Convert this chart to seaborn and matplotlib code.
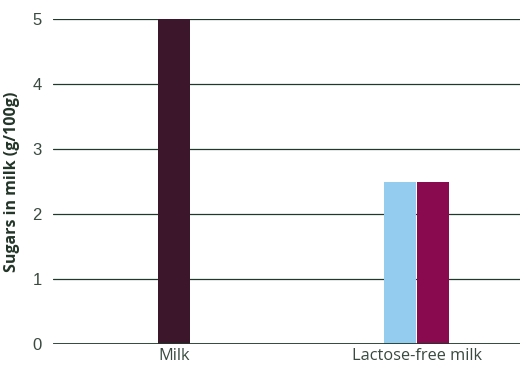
import matplotlib
matplotlib.use("Agg")
import matplotlib.pyplot as plt
import seaborn as sns
import pandas as pd

categories = ["Milk", "Lactose-free milk"]
milk_sugar = [5.0]
lactose_free_variants = ["Lactose-free A", "Lactose-free B"]
lactose_free_sugar = [2.5, 2.5]
y_ticks = [0, 1, 2, 3, 4, 5]

milk_colour = "#3c172c"
lf_colours = ["#94ccef", "#8a0a50"]
grid_colour = "#1f3a29"
text_colour = "#3a4a40"

sns.set_theme(style="white")
plt.rcParams["font.family"] = ["Open Sans", "DejaVu Sans"]

fig = plt.figure(figsize=(5.2, 3.65), dpi=100)
ax = fig.add_axes([53 / 520, 21 / 365, (520 - 53) / 520, 325 / 365])

milk_df = pd.DataFrame({"product": ["Milk"], "sugar": milk_sugar})
lf_df = pd.DataFrame({
    "product": ["Lactose-free milk"] * len(lactose_free_sugar),
    "variant": lactose_free_variants,
    "sugar": lactose_free_sugar,
})

sns.barplot(data=milk_df, x="product", y="sugar", order=categories,
            color=milk_colour, saturation=1, width=0.132, linewidth=0,
            ax=ax, zorder=3)
sns.barplot(data=lf_df, x="product", y="sugar", hue="variant", order=categories,
            hue_order=lactose_free_variants, palette=lf_colours, saturation=1,
            width=0.272, gap=0.04, dodge=True, legend=False, linewidth=0,
            ax=ax, zorder=3)

ax.set_xlim(-0.5, 1.427)
ax.set_ylim(0, 5)
ax.set_yticks(y_ticks)
ax.set_yticklabels([str(t) for t in y_ticks], family=["Liberation Sans"],
                   fontsize=12, color=text_colour)
ax.set_xticks(range(len(categories)))
ax.set_xticklabels(categories, fontsize=11.8, color=text_colour)
ax.tick_params(axis="y", length=0, pad=8)
ax.tick_params(axis="x", length=0, pad=3)

for t in y_ticks[1:]:
    ax.axhline(t, color=grid_colour, lw=0.9, zorder=1)
ax.axhline(0, color=grid_colour, lw=2.0, zorder=4)

for side in ["top", "right", "left", "bottom"]:
    ax.spines[side].set_visible(False)

ax.set_xlabel("")
ax.set_ylabel("Sugars in milk (g/100g)", fontsize=11.5, fontweight="bold",
              color="#233528", labelpad=9)

fig.savefig("out.png", dpi=100)
